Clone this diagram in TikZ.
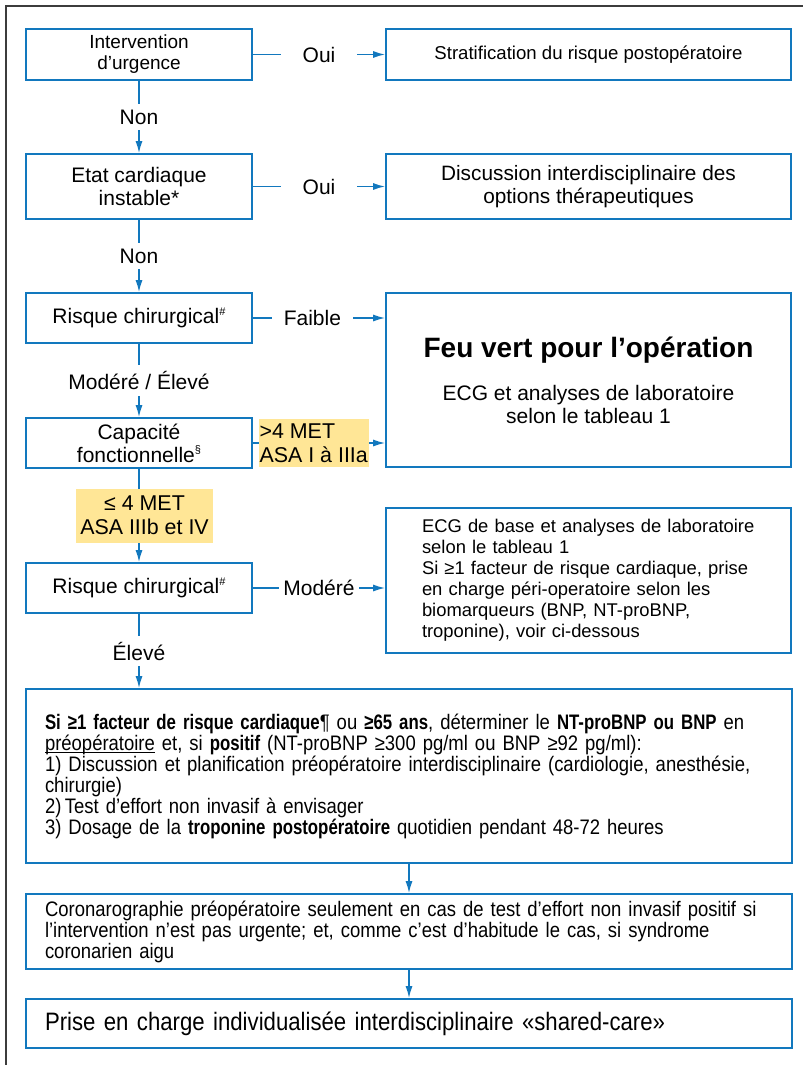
\documentclass[tikz,border=0pt]{standalone}
\usepackage{fontspec}
\setmainfont{Liberation Sans}
\newfontfamily\narrowfont[FakeStretch=0.88,WordSpace=0.8]{Liberation Sans}
\newfontfamily\narrowbold[FakeStretch=0.8,WordSpace=0.8]{Liberation Sans Bold}
\newcommand{\nb}[1]{{\narrowbold #1}}
\newcommand{\smallsup}[1]{\raisebox{0.75ex}{\fontsize{5.5}{6}\selectfont #1}}
\newcommand{\baseul}[1]{\leavevmode\setbox0=\hbox{#1}\rlap{\rule[-1.4pt]{\wd0}{0.45pt}}\box0\relax}
\setlength{\lineskiplimit}{-5pt}
\usetikzlibrary{arrows.meta}
\definecolor{boxblue}{RGB}{18,120,190}
\definecolor{metyellow}{RGB}{255,230,150}
\definecolor{framegray}{RGB}{60,60,60}

\begin{document}
\begin{tikzpicture}[x=0.5pt,y=-0.5pt,
  box/.style={draw=boxblue,line width=0.8pt,inner sep=0pt,align=center,font=\fontsize{10.5}{11.5}\selectfont},
  leftbox/.style={box,minimum width=113pt,minimum height=25pt},
  rightbox/.style={box,minimum width=202.5pt,minimum height=25.5pt},
  widebox/.style={box,minimum width=383pt,align=left,text width=364pt,inner xsep=9.5pt,font=\narrowfont\fontsize{10.5}{10.5}\selectfont},
  arr/.style={draw=boxblue,line width=0.8pt,-{Latex[length=6pt,width=3.5pt]}},
  lbl/.style={fill=white,inner xsep=11pt,inner ysep=3pt,font=\fontsize{10.5}{12}\selectfont},
  met/.style={fill=metyellow,inner xsep=0.5pt,inner ysep=2.5pt,font=\fontsize{10.7}{12}\selectfont}]
\useasboundingbox (0,0) rectangle (803,1065);
\draw[framegray,line width=0.6pt] (6,1065) -- (6,6) -- (803,6);

\node[leftbox,minimum height=25.5pt,font=\fontsize{9.5}{10.5}\selectfont] (urgence) at (139,54.5) {Intervention\\d’urgence};
\node[leftbox,minimum height=32.5pt] (instable) at (139,186.5) {Etat cardiaque\\instable*};
\node[leftbox] (risque1) at (139,318) {Risque chirurgical\smallsup{\#}};
\node[leftbox] (capacite) at (139,443) {Capacité\\fonctionnelle\smallsup{§}};
\node[leftbox] (risque2) at (139,588) {Risque chirurgical\smallsup{\#}};

\node[rightbox,font=\fontsize{9.3}{10.5}\selectfont] (strat) at (588.5,54.5) {Stratification du risque postopératoire};
\node[rightbox,minimum height=32.5pt,font=\fontsize{10.4}{11.5}\selectfont] (discussion) at (588.5,186.5) {Discussion interdisciplinaire des\\options thérapeutiques};
\node[rightbox,minimum height=87pt] (feu) at (588.5,380) {{\bfseries\fontsize{14}{16}\selectfont Feu vert pour l’opération}\\[10pt]ECG et analyses de laboratoire\\selon le tableau 1};
\node[rightbox,minimum height=72.5pt,align=left,text width=166.5pt,inner xsep=18pt,font=\fontsize{9.2}{10.5}\selectfont] (ecgbase) at (588.5,580.5) {ECG de base et analyses de laboratoire\\selon le tableau 1\\Si ≥1 facteur de risque cardiaque, prise\\en charge péri-operatoire selon les\\biomarqueurs (BNP, NT-proBNP,\\troponine), voir ci-dessous};

\node[widebox,minimum height=87pt] (ntbnp) at (409,776) {\nb{Si ≥1 facteur de risque cardiaque}¶ ou \nb{≥65 ans}, déterminer le \nb{NT-proBNP ou BNP} en\\\baseul{préopératoire} et, si \nb{positif} (NT-proBNP ≥300 pg/ml ou BNP ≥92 pg/ml):\\1) Discussion et planification préopératoire interdisciplinaire (cardiologie, anesthésie,\\chirurgie)\\2)\,Test d’effort non invasif à envisager\\3) Dosage de la \nb{troponine postopératoire} quotidien pendant 48-72 heures};
\node[widebox,minimum height=37.5pt] (corona) at (409,931.5) {Coronarographie préopératoire seulement en cas de test d’effort non invasif positif si\\l’intervention n’est pas urgente; et, comme c’est d’habitude le cas, si syndrome\\coronarien aigu};
\node[widebox,minimum height=24.5pt,font=\narrowfont\fontsize{12.6}{14}\selectfont] (prise) at (409,1023.5) {Prise en charge individualisée interdisciplinaire «shared-care»};

\draw[arr] (urgence) -- node[lbl]{Oui} (strat);
\draw[arr] (urgence) -- node[lbl]{Non} (instable);
\draw[arr] (instable) -- node[lbl]{Oui} (discussion);
\draw[arr] (instable) -- node[lbl]{Non} (risque1);
\draw[arr] (risque1) -- node[lbl,inner xsep=6pt,pos=0.45]{Faible} (risque1 -| feu.west);
\draw[arr] (risque1) -- node[lbl]{Modéré / Élevé} (capacite);
\draw[arr] (capacite) -- node[met,align=left,pos=0.46]{>4 MET\\ASA I à IIIa} (capacite -| feu.west);
\draw[arr] (capacite) -- node[met,align=center,minimum width=68.5pt,minimum height=27pt,xshift=2.75pt]{≤ 4 MET\\ASA IIIb et IV} (risque2);
\draw[arr] (risque2) -- node[lbl,inner xsep=2pt]{Modéré} (risque2 -| ecgbase.west);
\draw[arr] (risque2) -- node[lbl]{Élevé} (risque2 |- ntbnp.north);
\draw[arr] (ntbnp) -- (corona);
\draw[arr] (corona) -- (prise);
\end{tikzpicture}
\end{document}
